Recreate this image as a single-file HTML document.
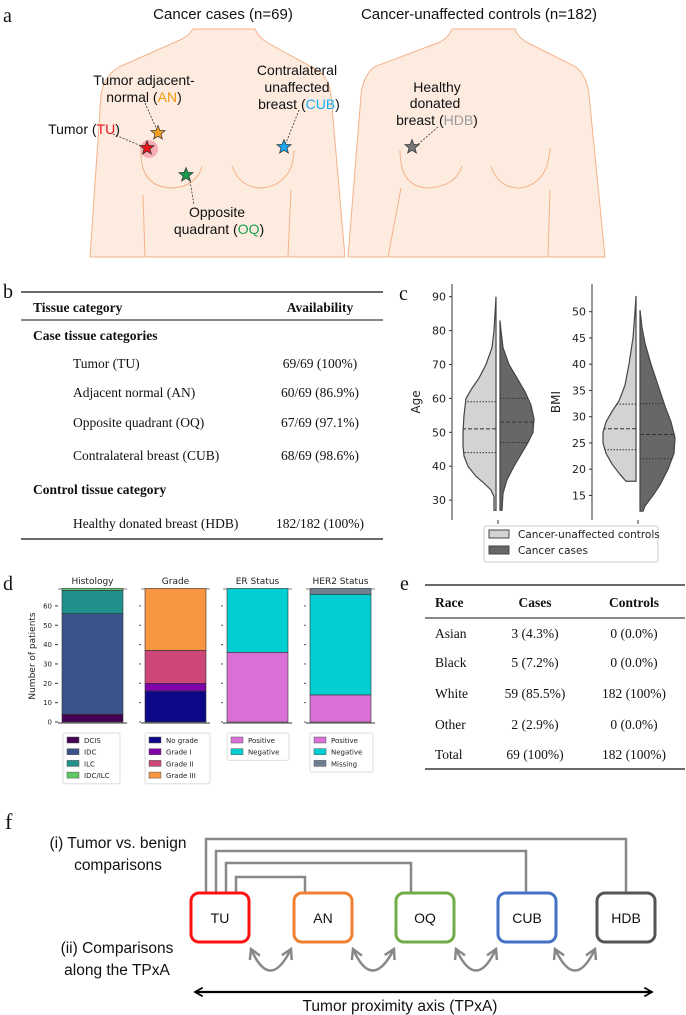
<!DOCTYPE html>
<html><head><meta charset="utf-8">
<style>
html,body{margin:0;padding:0;background:#fff;}
svg{display:block;}
.ser{font-family:"Liberation Serif",serif;fill:#111;}
.sans{font-family:"Liberation Sans",sans-serif;fill:#111;}
.dv{font-family:"DejaVu Sans","Liberation Sans",sans-serif;fill:#222;}
</style></head>
<body>
<svg id="fig" width="686" height="1015" viewBox="0 0 686 1015" xmlns="http://www.w3.org/2000/svg">
<defs>
<marker id="ga" viewBox="0 0 10 10" refX="8" refY="5" markerWidth="5.5" markerHeight="5.5" orient="auto-start-reverse"><path d="M1,1 L8,5 L1,9" fill="none" stroke="#888" stroke-width="1.8"/></marker>
<marker id="ba" viewBox="0 0 10 10" refX="8" refY="5" markerWidth="5" markerHeight="5" orient="auto-start-reverse"><path d="M1,1 L8,5 L1,9" fill="none" stroke="#000" stroke-width="1.6"/></marker>
</defs>

<!-- Panel a -->
<g>
<text x="3" y="22" class="ser" font-size="20">a</text>
<text x="223" y="19" class="sans" font-size="15" text-anchor="middle">Cancer cases (n=69)</text>
<text x="479" y="19" class="sans" font-size="15" text-anchor="middle">Cancer-unaffected controls (n=182)</text>
<g fill="#fdebe0" stroke="#f2b38a" stroke-width="1">
<path d="M90,257 L101,95 Q104,76 119,67 L180,40 Q189,36 193,29 L255,29 Q259,38 268,43 L317,70 Q328,76 331,95 L345,257 Z"/>
<path d="M348,257 L361,95 Q363,76 374,67 L440,42 Q449,37 452,29 L515,29 Q518,38 530,44 L576,67 Q587,76 589,95 L605,257 Z"/>
</g>
<g fill="none" stroke="#f2b38a" stroke-width="1">
<path d="M141,150 Q140,188 173,188 Q197,186 202,166"/>
<path d="M145,257 L143,195"/>
<path d="M232,166 Q240,188 262,188 Q293,184 294,150"/>
<path d="M288,257 L291,190"/>
<path d="M400,150 Q400,188 429,188 Q456,186 462,166"/>
<path d="M388,257 L401,188"/>
<path d="M491,166 Q498,188 520,188 Q548,184 550,148"/>
<path d="M548,257 L550,190"/>
</g>
<circle cx="149" cy="149" r="9" fill="#f6a0a8" opacity="0.8"/>
<g stroke="#333" stroke-width="0.8" stroke-dasharray="2,1.5" fill="none">
<path d="M113,134 L146,148"/><path d="M145,103 L157,130"/><path d="M299,110 L286,143"/><path d="M190,181 L194,205"/><path d="M438,127 L416,146"/>
</g>
<g id="stars"></g>
<g class="sans" font-size="14" text-anchor="middle">
<text x="144" y="85">Tumor adjacent-</text>
<text x="144" y="102">normal (<tspan fill="#f39a10">AN</tspan>)</text>
<text x="84" y="134">Tumor (<tspan fill="#e8141c">TU</tspan>)</text>
<text x="297" y="75">Contralateral</text>
<text x="297" y="92">unaffected</text>
<text x="299" y="109">breast (<tspan fill="#1aaef0">CUB</tspan>)</text>
<text x="437" y="92">Healthy</text>
<text x="435" y="108">donated</text>
<text x="437" y="125">breast (<tspan fill="#999">HDB</tspan>)</text>
<text x="217" y="217">Opposite</text>
<text x="219" y="234">quadrant (<tspan fill="#1aa050">OQ</tspan>)</text>
</g>
</g>

<!-- Panel b -->
<g>
<text x="3" y="298" class="ser" font-size="20">b</text>
<line x1="21" y1="292" x2="383" y2="292" stroke="#111" stroke-width="1.3"/>
<line x1="21" y1="320" x2="383" y2="320" stroke="#111" stroke-width="1"/>
<line x1="21" y1="539" x2="383" y2="539" stroke="#111" stroke-width="1.3"/>
<g class="ser" font-size="13.5">
<text x="33" y="312" font-weight="bold">Tissue category</text>
<text x="320" y="312" font-weight="bold" text-anchor="middle">Availability</text>
<text x="33" y="340" font-weight="bold">Case tissue categories</text>
<text x="73" y="368">Tumor (TU)</text>
<text x="320" y="368" text-anchor="middle">69/69 (100%)</text>
<text x="73" y="397">Adjacent normal (AN)</text>
<text x="320" y="397" text-anchor="middle">60/69 (86.9%)</text>
<text x="73" y="427">Opposite quadrant (OQ)</text>
<text x="320" y="427" text-anchor="middle">67/69 (97.1%)</text>
<text x="73" y="460">Contralateral breast (CUB)</text>
<text x="320" y="460" text-anchor="middle">68/69 (98.6%)</text>
<text x="33" y="494" font-weight="bold">Control tissue category</text>
<text x="73" y="528">Healthy donated breast (HDB)</text>
<text x="320" y="528" text-anchor="middle">182/182 (100%)</text>
</g>
</g>

<!-- Panel c -->
<g id="panelc">
<text x="399" y="300" class="ser" font-size="20">c</text>
</g>

<!-- Panel d -->
<g id="paneld">
<text x="3" y="590" class="ser" font-size="20">d</text>
</g>

<!-- Panel e -->
<g>
<text x="400" y="590" class="ser" font-size="20">e</text>
<line x1="425" y1="585" x2="685" y2="585" stroke="#111" stroke-width="1.3"/>
<line x1="425" y1="618" x2="685" y2="618" stroke="#111" stroke-width="1"/>
<line x1="425" y1="769" x2="685" y2="769" stroke="#111" stroke-width="1.3"/>
<g class="ser" font-size="13.5">
<text x="435" y="607" font-weight="bold">Race</text>
<text x="535" y="607" font-weight="bold" text-anchor="middle">Cases</text>
<text x="634" y="607" font-weight="bold" text-anchor="middle">Controls</text>
<text x="435" y="638">Asian</text><text x="535" y="638" text-anchor="middle">3 (4.3%)</text><text x="634" y="638" text-anchor="middle">0 (0.0%)</text>
<text x="435" y="667">Black</text><text x="535" y="667" text-anchor="middle">5 (7.2%)</text><text x="634" y="667" text-anchor="middle">0 (0.0%)</text>
<text x="435" y="698">White</text><text x="535" y="698" text-anchor="middle">59 (85.5%)</text><text x="634" y="698" text-anchor="middle">182 (100%)</text>
<text x="435" y="729">Other</text><text x="535" y="729" text-anchor="middle">2 (2.9%)</text><text x="634" y="729" text-anchor="middle">0 (0.0%)</text>
<text x="435" y="759">Total</text><text x="535" y="759" text-anchor="middle">69 (100%)</text><text x="634" y="759" text-anchor="middle">182 (100%)</text>
</g>
</g>

<!-- Panel f -->
<g>
<text x="5" y="829" class="ser" font-size="22">f</text>
<g class="sans" font-size="15.5" text-anchor="middle">
<text x="118" y="848">(i) Tumor vs. benign</text>
<text x="118" y="870">comparisons</text>
<text x="117" y="953">(ii) Comparisons</text>
<text x="117" y="975">along the TPxA</text>
<text x="400" y="1011">Tumor proximity axis (TPxA)</text>
</g>
<g fill="none" stroke="#888" stroke-width="2.5">
<path d="M206,893 V839 H626 V893"/>
<path d="M216,893 V851 H526 V893"/>
<path d="M226,893 V863 H411 V893"/>
<path d="M236,893 V877 H305 V893"/>
<path marker-start="url(#ga)" marker-end="url(#ga)" d="M251,949 Q270,992 291,949"/>
<path marker-start="url(#ga)" marker-end="url(#ga)" d="M353,949 Q372,992 394,949"/>
<path marker-start="url(#ga)" marker-end="url(#ga)" d="M456,949 Q476,992 496,949"/>
<path marker-start="url(#ga)" marker-end="url(#ga)" d="M555,949 Q575,992 595,949"/>
</g>
<line x1="195" y1="992" x2="652" y2="992" stroke="#000" stroke-width="2.2" marker-start="url(#ba)" marker-end="url(#ba)"/>
<g fill="#fff" stroke-width="3">
<rect x="191" y="893" width="58" height="49" rx="8" stroke="#ff1010"/>
<rect x="294" y="893" width="58" height="49" rx="8" stroke="#f08030"/>
<rect x="396" y="893" width="58" height="49" rx="8" stroke="#70ad47"/>
<rect x="498" y="893" width="58" height="49" rx="8" stroke="#4472c4"/>
<rect x="597" y="893" width="58" height="49" rx="8" stroke="#555"/>
</g>
<g class="sans" font-size="14" text-anchor="middle">
<text x="220" y="923">TU</text><text x="323" y="923">AN</text><text x="425" y="923">OQ</text><text x="527" y="923">CUB</text><text x="626" y="923">HDB</text>
</g>
</g>
</svg>

<script>
// ---------- Panel c data ----------
const ageTicks = [30,40,50,60,70,80,90];
const bmiTicks = [15,20,25,30,35,40,45,50];
const ageCtrlVals = [90,85,80,75,70,66,63,60,55,50,46,43,40,37,35,33,31,27];
const ageCtrlDens = [0,1,2,4,10,17,24,30,32,33,33,32,28,20,12,5,2,2];
const ageCaseVals = [83,80,75,70,66,62,58,54,50,47,44,40,36,32,27];
const ageCaseDens = [0,1,3,9,17,25,31,34,33,28,22,14,7,3,2];
const ageCtrlQuart = [44,51,59];
const ageCaseQuart = [47,53,60];
const bmiCtrlVals = [53,50,45,40,36,33,31,29,27,25,23,21,19,17.7];
const bmiCtrlDens = [0,1,3,7,11,17,24,30,33,33,30,24,16,10];
const bmiCaseVals = [50.3,47,44,40,36,32,29,26,23,20,17,15,13,12];
const bmiCaseDens = [0,2,5,11,18,25,31,35,34,28,20,13,5,3];
const bmiCtrlQuart = [23.7,27.7,32.4];
const bmiCaseQuart = [22,26.6,32.5];

// ---------- Panel d data ----------
const panelTitles = ["Histology","Grade","ER Status","HER2 Status"];
const countTicks = [0,10,20,30,40,50,60];
const histLabels = ["DCIS","IDC","ILC","IDC/ILC"];
const histCounts = [4,52,12,1];
const gradeLabels = ["No grade","Grade I","Grade II","Grade III"];
const gradeCounts = [16,4,17,32];
const erLabels = ["Positive","Negative"];
const erCounts = [36,33];
const her2Labels = ["Positive","Negative","Missing"];
const her2Counts = [14,52,3];

const NS = "http://www.w3.org/2000/svg";
function mk(tag, attrs, parent){ const e=document.createElementNS(NS,tag); for(const k in attrs) e.setAttribute(k,attrs[k]); parent.appendChild(e); return e; }

// stars
(function(){
  const g=document.getElementById('stars');
  const cx=[147,158,284,186,412], cy=[148,133,147,175,147], col=["#e8141c","#f5a020","#1ea8f0","#1a9a50","#777"], nm=["star-tu","star-an","star-cub","star-oq","star-hdb"];
  for(let s=0;s<5;s++){
    let pts=[];
    for(let i=0;i<10;i++){const r=i%2?3.2:7.5;const a=-Math.PI/2+i*Math.PI/5;pts.push((cx[s]+r*Math.cos(a)).toFixed(1)+","+(cy[s]+r*Math.sin(a)).toFixed(1));}
    const p=mk('polygon',{points:pts.join(' '),fill:col[s],stroke:'#333','stroke-width':0.7},g);
    
    
  }
})();

// violins
(function(){
  const g=document.getElementById('panelc');
  function axis(x0, top, bottom, ticks, yf, label, nm){
    const ax=mk('g',{},g);
    
    
    mk('line',{x1:x0,y1:top,x2:x0,y2:bottom,stroke:'#333','stroke-width':1},ax);
    ticks.forEach(t=>{const y=yf(t);mk('line',{x1:x0-3,y1:y,x2:x0,y2:y,stroke:'#333'},ax);
      const tx=mk('text',{x:x0-6,y:y+4,'text-anchor':'end','font-size':11,class:'dv'},ax);tx.textContent=t;});
    const lb=mk('text',{x:0,y:0,'font-size':12,class:'dv','text-anchor':'middle',transform:`translate(${x0-32},${(top+bottom)/2}) rotate(-90)`},ax);
    lb.textContent=label;
  }
  function half(vals,dens,quart,cx,dir,yf,fill,nm){
    let d=`M${cx},${yf(vals[0])}`;
    for(let i=0;i<vals.length;i++) d+=` L${cx+dir*dens[i]},${yf(vals[i])}`;
    d+=` L${cx},${yf(vals[vals.length-1])} Z`;
    const p=mk('path',{d:d,fill:fill,stroke:'#444','stroke-width':1.2},g);
    
    
    quart.forEach((q,i)=>{
      let w=0;for(let k=0;k<vals.length-1;k++){const a=vals[k],b=vals[k+1];if((q<=a&&q>=b)){const t=(a-q)/(a-b);w=dens[k]+t*(dens[k+1]-dens[k]);break;}}
      const y=yf(q);
      mk('line',{x1:cx,y1:y,x2:cx+dir*w,y2:y,stroke:'#333','stroke-width':1,'stroke-dasharray':i==1?'4,2':'1.5,1.5'},g);
    });
  }
  const yAge=v=>296.7+(90-v)*3.39;
  const yBmi=v=>311.7+(50-v)*5.25;
  axis(452,284,520,ageTicks,yAge,'Age','age-axis');
  axis(592,284,520,bmiTicks,yBmi,'BMI','bmi-axis');
  half(ageCtrlVals,ageCtrlDens,ageCtrlQuart,496,-1,yAge,'#d3d3d3','age-controls-violin');
  half(ageCaseVals,ageCaseDens,ageCaseQuart,500,1,yAge,'#676767','age-cases-violin');
  half(bmiCtrlVals,bmiCtrlDens,bmiCtrlQuart,636,-1,yBmi,'#d3d3d3','bmi-controls-violin');
  half(bmiCaseVals,bmiCaseDens,bmiCaseQuart,640,1,yBmi,'#676767','bmi-cases-violin');
  mk('line',{x1:498,y1:520,x2:498,y2:524,stroke:'#333'},g);
  mk('line',{x1:638,y1:520,x2:638,y2:524,stroke:'#333'},g);
  const lg=mk('g',{},g);
  
  
  mk('rect',{x:484,y:526,width:174,height:36,rx:2,fill:'#fff',stroke:'#ccc'},lg);
  mk('rect',{x:489,y:530,width:20,height:8,fill:'#d3d3d3',stroke:'#444'},lg);
  mk('rect',{x:489,y:546,width:20,height:8,fill:'#676767',stroke:'#444'},lg);
  let t=mk('text',{x:518,y:538,'font-size':10.5,class:'dv'},lg);t.textContent='Cancer-unaffected controls';
  t=mk('text',{x:518,y:554,'font-size':10.5,class:'dv'},lg);t.textContent='Cancer cases';
})();

// stacked bars
(function(){
  const g=document.getElementById('paneld');
  const yC=v=>722-v*1.935;
  const barX=[62,145,227,310], barW=61;
  const groups=[
    {labels:histLabels,counts:histCounts,colors:["#440154","#3b528b","#21918c","#5ec962"],name:'histology'},
    {labels:gradeLabels,counts:gradeCounts,colors:["#0d0887","#7e03a8","#cc4778","#f89540"],name:'grade'},
    {labels:erLabels,counts:erCounts,colors:["#da70d6","#00ced1"],name:'er-status'},
    {labels:her2Labels,counts:her2Counts,colors:["#da70d6","#00ced1","#708090"],name:'her2-status'}];
  countTicks.forEach(t=>{const y=yC(t);
    mk('line',{x1:55,y1:y,x2:58,y2:y,stroke:'#333'},g);
    const tx=mk('text',{x:52,y:y+2.5,'text-anchor':'end','font-size':7,class:'dv'},g);tx.textContent=t;
    for(let i=1;i<4;i++) mk('line',{x1:barX[i]-6,y1:y,x2:barX[i]-4,y2:y,stroke:'#555'},g);
  });
  const yl=mk('text',{x:0,y:0,'font-size':9,class:'dv','text-anchor':'middle',transform:'translate(35,656) rotate(-90)'},g);
  yl.textContent='Number of patients';
  
  
  groups.forEach((gr,i)=>{
    const x=barX[i];
    mk('line',{x1:x-4,y1:589,x2:x+barW+4,y2:589,stroke:'#999','stroke-width':1.2},g);
    mk('line',{x1:x-4,y1:723,x2:x+barW+4,y2:723,stroke:'#333','stroke-width':1},g);
    const tt=mk('text',{x:x+barW/2,y:584,'text-anchor':'middle','font-size':9,class:'dv'},g);tt.textContent=panelTitles[i];
    
    
    let cum=0;
    gr.counts.forEach((c,j)=>{
      const r=mk('rect',{x:x,y:yC(cum+c),width:barW,height:yC(cum)-yC(cum+c),fill:gr.colors[j],stroke:'#333','stroke-width':0.6},g);
      
      
      cum+=c;
    });
    const lw=[57,65,62,63][i];
    const lgx=[63,145,227,310][i];
    const lg=mk('g',{},g);
    
    
    mk('rect',{x:lgx,y:733,width:lw,height:gr.labels.length*11.7+4,rx:2,fill:'#fff',stroke:'#ddd'},lg);
    gr.labels.forEach((l,j)=>{
      const yy=737+j*11.7;
      mk('rect',{x:lgx+4,y:yy,width:12,height:6,fill:gr.colors[j],stroke:'#555','stroke-width':0.5},lg);
      const tx=mk('text',{x:lgx+21,y:yy+6,'font-size':7,class:'dv'},lg);tx.textContent=l;
    });
  });
})();
</script>
</body></html>
